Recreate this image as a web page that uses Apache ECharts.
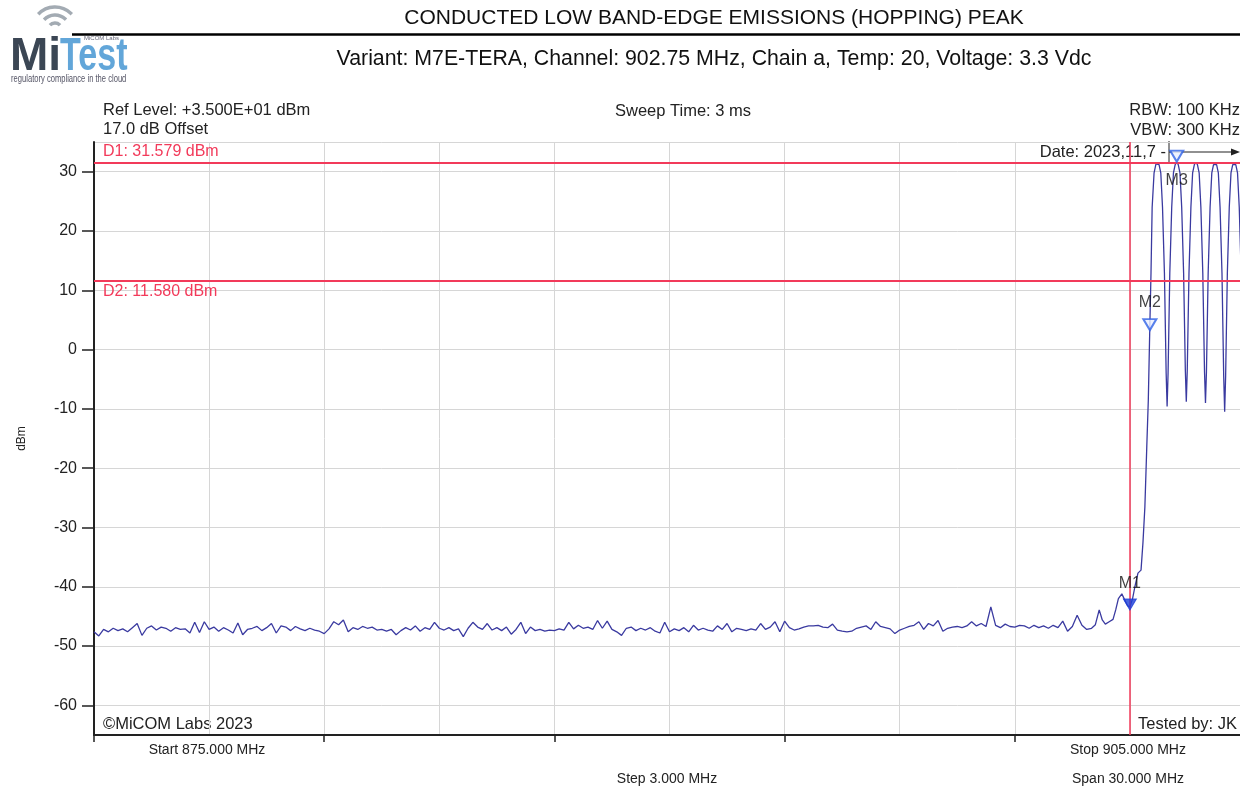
<!DOCTYPE html>
<html><head><meta charset="utf-8">
<script src="https://cdn.jsdelivr.net/npm/echarts@6/dist/echarts.min.js"></script>
<style>html,body{margin:0;padding:0;background:#fff;overflow:hidden;width:1240px;height:789px}#c{width:1262px;height:789px}</style>
</head><body><div id="c"></div>
<script>
const titleText = 'CONDUCTED LOW BAND-EDGE EMISSIONS (HOPPING) PEAK';
const subtitleText = 'Variant: M7E-TERA, Channel: 902.75 MHz, Chain a, Temp: 20, Voltage: 3.3 Vdc';
const freqMin = 875, freqMax = 905, freqStep = 3, freqMajorStep = 6;
const yMin = -65, yMax = 35;
const yTickLabels = [-60, -50, -40, -30, -20, -10, 0, 10, 20, 30];

// noise floor trace, sampled every 0.125 MHz from 875 MHz
const noiseStartMHz = 875, noiseStepMHz = 0.125;
const noiseLevels = [
 -47.6,-48.3,-47.2,-47.6,-47.0,-47.4,-47.1,-47.6,-46.9,-46.2,
 -48.2,-47.0,-46.6,-47.3,-46.8,-47.0,-47.5,-46.9,-47.2,-47.1,
 -47.8,-46.0,-47.7,-45.9,-47.2,-46.8,-47.5,-46.9,-47.3,-47.8,
 -46.1,-48.1,-47.2,-47.0,-46.7,-47.4,-46.9,-46.2,-47.8,-46.6,
 -46.8,-47.4,-46.7,-47.1,-47.4,-47.0,-47.3,-47.5,-47.9,-47.1,
 -45.9,-46.4,-45.6,-47.6,-46.9,-47.2,-46.7,-47.0,-46.8,-47.3,
 -47.2,-47.5,-47.2,-48.1,-47.4,-46.9,-47.3,-46.6,-47.5,-46.9,
 -47.2,-46.0,-47.0,-47.3,-46.9,-47.4,-47.1,-48.4,-47.0,-46.0,
 -46.8,-47.2,-46.2,-47.3,-46.9,-47.4,-46.8,-48.0,-47.2,-46.0,
 -47.9,-46.8,-47.4,-47.2,-47.5,-47.3,-47.4,-47.1,-47.3,-46.0,
 -47.1,-46.5,-47.0,-46.8,-47.2,-45.7,-47.0,-45.8,-47.2,-47.6,
 -48.2,-47.0,-46.8,-47.4,-47.0,-47.3,-46.9,-47.5,-47.8,-46.0,
 -47.6,-47.1,-47.4,-46.9,-47.6,-46.5,-47.3,-47.0,-47.3,-47.5,
 -46.6,-47.2,-46.2,-47.6,-47.0,-47.2,-47.4,-47.1,-47.3,-46.2,
 -47.2,-46.8,-45.9,-47.6,-45.8,-46.9,-47.3,-47.1,-46.8,-46.6,
 -46.6,-46.5,-46.8,-46.9,-46.3,-47.3,-47.5,-47.6,-47.5,-47.0,
 -46.8,-46.6,-47.2,-45.9,-46.7,-46.9,-47.1,-47.9,-47.3,-47.0,
 -46.7,-46.5,-45.9,-47.2,-46.2,-46.6,-45.7,-47.5,-47.0,-46.8,
 -46.7,-46.9,-46.6,-45.9,-46.6,-46.2,-46.7,-43.4,-46.5,-46.9,
 -46.3,-46.7,-46.8,-46.5,-46.6,-47.0,-46.5,-46.9,-46.6,-47.0,
 -46.5,-46.9,-45.8,-47.5,-46.7,-44.8,-46.5,-47.2,-47.0
];

// band-edge rise
const edgeFreqs = [901.10,901.20,901.28,901.36,901.46,901.56,901.63,901.70,901.79,901.87,901.94,902.00,902.07,902.13,902.21,902.29,902.34,902.39,902.44,902.48,902.52,902.55,902.58,902.63,902.68,902.72];
const edgeLevels = [-46.4,-43.9,-45.6,-46.3,-45.9,-45.5,-43.9,-42.0,-41.2,-42.3,-43.2,-43.4,-42.0,-40.0,-37.7,-37.2,-32.6,-26.6,-16.4,-8.5,4.1,12.9,24.0,29.8,31.3,31.55];

// hopping channels
const hopFreqs = [
 902.76,902.805,902.85,902.90,902.945,902.97,902.995,903.04,903.09,903.135,903.18,903.22,
 903.26,903.305,903.35,903.40,903.445,903.47,903.495,903.54,903.59,903.635,903.68,903.72,
 903.76,903.805,903.85,903.90,903.945,903.97,903.995,904.04,904.09,904.135,904.18,904.22,
 904.26,904.305,904.35,904.40,904.445,904.47,904.495,904.54,904.59,904.635,904.68,904.72,
 904.76,904.805,904.85,904.90,904.945,904.97,905.00
];
const hopLevels = [
 31.2,29.8,24.0,12.9,-4.0,-9.6,-4.0,12.9,24.0,29.8,31.2,31.55,
 31.2,29.8,24.0,12.9,-3.5,-8.8,-3.5,12.9,24.0,29.8,31.2,31.55,
 31.2,29.8,24.0,12.9,-3.8,-9.0,-3.8,12.9,24.0,29.8,31.2,31.5,
 31.2,29.8,24.0,12.9,-4.5,-10.5,-4.5,12.9,24.0,29.8,31.2,31.5,
 31.2,29.8,24.0,12.9,-4.0,-9.5,-2.0
];

const displayLineNames = ['D1', 'D2'];
const displayLineValues = [31.579, 11.580];
const bandEdgeMHz = 902.0;
const markerNames = ['M1', 'M2', 'M3'];
const markerFreqs = [902.0, 902.52, 903.22];
const markerLevels = [-44.0, 3.2, 31.6];

const FONT = "'Liberation Sans', Arial, sans-serif";
const RED = '#f23a5a';
const TRACE = '#3a3aa0';

const trace = [];
noiseLevels.forEach((v, i) => trace.push([noiseStartMHz + i * noiseStepMHz, v]));
edgeFreqs.forEach((f, i) => trace.push([f, edgeLevels[i]]));
hopFreqs.forEach((f, i) => trace.push([f, hopLevels[i]]));

const markerLabelOffsets = [[0, -21], [0, -22], [0, 24]];
const markerData = markerNames.map((n, i) => ({
  value: [markerFreqs[i], markerLevels[i]],
  name: n,
  itemStyle: i === 0 ? { color: '#1d3ed8', borderColor: '#1d3ed8', borderWidth: 1 }
                     : { color: '#e8efff', borderColor: '#2f62e6', borderWidth: 2 },
  label: { show: true, formatter: n, position: 'inside', offset: markerLabelOffsets[i],
           color: '#111', fontSize: 16, fontFamily: FONT }
}));

const chart = echarts.init(document.getElementById('c'), null, { renderer: 'canvas' });

function txt(x, y, s, opt) {
  return Object.assign({ type: 'text', x: x, y: y, silent: true,
    style: Object.assign({ text: s, fill: '#222', font: '16.5px ' + FONT, align: 'left', verticalAlign: 'middle' }, opt || {}) });
}
const arcStyle = { stroke: '#a3abb3', lineWidth: 3.4, fill: 'none' };
function logoArc(r) {
  return { type: 'arc', silent: true, shape: { cx: 55, cy: 30, r: r, startAngle: -Math.PI * 0.76, endAngle: -Math.PI * 0.24 }, style: arcStyle };
}

const gridLine = { show: true, lineStyle: { color: '#d6d6d6', width: 1 } };
const option = {
  animation: false,
  backgroundColor: '#fff',
  grid: { left: 94, top: 142, width: 1151, height: 593, containLabel: false },
  xAxis: [
    {
      type: 'value', min: freqMin, max: freqMax, interval: freqStep,
      axisLine: { show: true, onZero: false, lineStyle: { color: '#222', width: 2 } },
      axisTick: { show: false }, axisLabel: { show: false }, splitLine: gridLine
    },
    {
      type: 'value', min: freqMin, max: freqMax, interval: freqMajorStep, position: 'bottom',
      axisLine: { show: false, onZero: false },
      axisTick: { show: true, length: 7, lineStyle: { color: '#222', width: 1.5 } },
      axisLabel: { show: false }, splitLine: { show: false }
    }
  ],
  yAxis: [
    {
      type: 'value', min: yMin, max: yMax, splitNumber: 10,
      name: 'dBm', nameLocation: 'middle', nameRotate: 90, nameGap: 66,
      nameTextStyle: { fontSize: 12, color: '#222', fontFamily: FONT },
      axisLine: { show: true, onZero: false, lineStyle: { color: '#222', width: 2 } },
      axisTick: { show: false }, axisLabel: { show: false }, splitLine: gridLine
    },
    {
      type: 'value', min: yMin, max: yMax, position: 'left',
      axisLine: { show: false, onZero: false },
      axisTick: { show: true, customValues: yTickLabels, length: 12, lineStyle: { color: '#222', width: 1.5 } },
      axisLabel: { customValues: yTickLabels, margin: 17, fontSize: 16, color: '#222', fontFamily: FONT },
      splitLine: { show: false }
    }
  ],
  series: [
    {
      type: 'line', data: trace, symbol: 'none', z: 3, xAxisIndex: 0, yAxisIndex: 0,
      lineStyle: { color: TRACE, width: 1.3 },
      markLine: {
        silent: true, symbol: ['none', 'none'], animation: false,
        data: [
          { yAxis: displayLineValues[0], lineStyle: { color: RED, width: 2, type: 'solid' },
            label: { show: true, formatter: displayLineNames[0] + ': ' + displayLineValues[0].toFixed(3) + ' dBm',
                     position: 'insideStartTop', distance: [9, 3], color: RED, fontSize: 16, fontFamily: FONT } },
          { yAxis: displayLineValues[1], lineStyle: { color: RED, width: 2, type: 'solid' },
            label: { show: true, formatter: displayLineNames[1] + ': ' + displayLineValues[1].toFixed(3) + ' dBm',
                     position: 'insideStartBottom', distance: [9, 3], color: RED, fontSize: 16, fontFamily: FONT } },
          { xAxis: bandEdgeMHz, lineStyle: { color: RED, width: 1.5, type: 'solid' }, label: { show: false } }
        ]
      }
    },
    {
      type: 'scatter', data: markerData, symbol: 'triangle', symbolRotate: 180, xAxisIndex: 0, yAxisIndex: 0,
      symbolSize: [13, 11], symbolOffset: [0, -6], z: 5, silent: true
    }
  ],
  graphic: [
    // logo
    logoArc(7), logoArc(15), logoArc(23),
    txt(10, 57, 'Mi', { font: 'bold 46px ' + FONT, fill: '#3b4654' }),
    Object.assign(txt(60, 57, 'Test', { font: 'bold 46px ' + FONT, fill: '#62a6d9' }), { scaleX: 0.74 }),
    txt(84, 38, 'MiCOM Labs', { font: '6px ' + FONT, fill: '#667' }),
    Object.assign(txt(11, 79, 'regulatory compliance in the cloud', { font: '10px ' + FONT, fill: '#556' }), { scaleX: 0.76 }),
    // title block
    { type: 'line', silent: true, shape: { x1: 72, y1: 34.5, x2: 1240, y2: 34.5 }, style: { stroke: '#000', lineWidth: 2.5 } },
    txt(714, 18, titleText, { font: '21px ' + FONT, align: 'center', fill: '#111' }),
    txt(714, 59, subtitleText, { font: '21.3px ' + FONT, align: 'center', fill: '#111' }),
    // instrument settings
    txt(103, 110, 'Ref Level: +3.500E+01 dBm'),
    txt(103, 129, '17.0 dB Offset'),
    txt(683, 111, 'Sweep Time: 3 ms', { align: 'center' }),
    txt(1240, 110, 'RBW: 100 KHz', { align: 'right' }),
    txt(1240, 130, 'VBW: 300 KHz', { align: 'right' }),
    txt(1166, 152, 'Date: 2023,11,7 -', { align: 'right' }),
    { type: 'line', silent: true, shape: { x1: 1169, y1: 141, x2: 1169, y2: 162 }, style: { stroke: '#222', lineWidth: 1 } },
    { type: 'line', silent: true, shape: { x1: 1169, y1: 152, x2: 1234, y2: 152 }, style: { stroke: '#222', lineWidth: 1.2 } },
    { type: 'polygon', silent: true, shape: { points: [[1240, 152], [1231, 148.5], [1231, 155.5]] }, style: { fill: '#222' } },
    txt(103, 724, '©MiCOM Labs 2023'),
    txt(1237, 724, 'Tested by: JK', { align: 'right' }),
    // bottom annotations
    txt(207, 750, 'Start 875.000 MHz', { align: 'center', font: '14px ' + FONT }),
    txt(1128, 750, 'Stop 905.000 MHz', { align: 'center', font: '14px ' + FONT }),
    txt(667, 779, 'Step 3.000 MHz', { align: 'center', font: '14px ' + FONT }),
    txt(1128, 779, 'Span 30.000 MHz', { align: 'center', font: '14px ' + FONT })
  ]
};
chart.setOption(option);
</script></body></html>
